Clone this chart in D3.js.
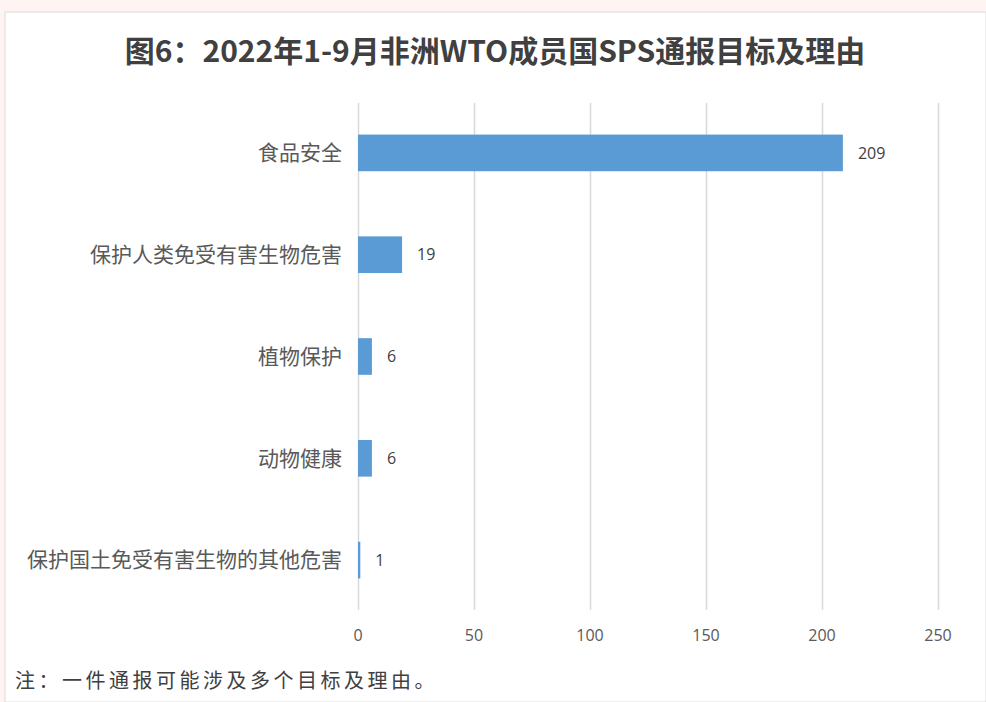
<!DOCTYPE html>
<html>
<head>
<meta charset="utf-8">
<script src="https://cdn.jsdelivr.net/npm/d3@7"></script>
<style>
  body { margin: 0; background: #fdf4f3; }
  svg { display: block; }
  .grid line { stroke: #d9d9d9; stroke-width: 1.5; }
  .grid path { display: none; }
</style>
</head>
<body>
<script>
const categories = ['食品安全', '保护人类免受有害生物危害', '植物保护', '动物健康', '保护国土免受有害生物的其他危害'];
const values = [209, 19, 6, 6, 1];
const xTicks = [0, 50, 100, 150, 200, 250];
const titleText = '图6：2022年1-9月非洲WTO成员国SPS通报目标及理由';
const noteText = '注：一件通报可能涉及多个目标及理由。';

const W = 986, H = 702;
let svg = d3.select('body').append('svg')
    .attr('width', W)
    .attr('height', H);

// white panel
svg.append('rect')
    .attr('x', 5).attr('y', 12)
    .attr('width', W - 5).attr('height', H - 12)
    .attr('fill', '#fff')
    .attr('stroke', '#dcdcdc');

let x = d3.scaleLinear().domain([0, 250]).range([358, 938]);
let y = d3.scaleBand().domain(categories).range([102, 611]).paddingInner(0.64).paddingOuter(0.32);

let plot = svg.append('g');

plot.append('g')
    .attr('class', 'grid')
    .attr('transform', 'translate(0,610)')
    .call(d3.axisBottom(x).tickValues(xTicks).tickSize(-507).tickFormat(''));

plot.selectAll('rect.bar').data(values)
    .join('rect')
    .attr('class', 'bar')
    .attr('x', x(0))
    .attr('y', (d, i) => y(categories[i]))
    .attr('width', d => x(d) - x(0))
    .attr('height', y.bandwidth())
    .attr('fill', '#5b9bd5');

plot.selectAll('text.val').data(values)
    .join('text')
    .attr('class', 'val')
    .attr('x', d => x(d) + 15)
    .attr('y', (d, i) => y(categories[i]) + y.bandwidth() / 2)
    .attr('dy', '0.35em')
    .style('font', '16px "Open Sans", sans-serif')
    .style('fill', '#404040')
    .text(d => d);

plot.selectAll('text.cat').data(categories)
    .join('text')
    .attr('class', 'cat')
    .attr('x', 342)
    .attr('y', d => y(d) + y.bandwidth() / 2)
    .attr('dy', '0.35em')
    .attr('text-anchor', 'end')
    .style('font', '21px "Noto Sans CJK SC", sans-serif')
    .style('fill', '#595959')
    .text(d => d);

plot.selectAll('text.tick').data(xTicks)
    .join('text')
    .attr('class', 'tick')
    .attr('x', d => x(d))
    .attr('y', 635)
    .attr('dy', '0.35em')
    .attr('text-anchor', 'middle')
    .style('font', '16px "Open Sans", sans-serif')
    .style('fill', '#595959')
    .text(d => d);

svg.append('text')
    .attr('x', 495).attr('y', 62)
    .attr('text-anchor', 'middle')
    .style('font', 'bold 30px "Noto Sans CJK SC", sans-serif')
    .style('fill', '#404040')
    .text(titleText);

svg.append('text')
    .attr('x', 15).attr('y', 688)
    .style('font', '20px "Noto Sans CJK SC", sans-serif')
    .style('letter-spacing', '3.5px')
    .style('fill', '#404040')
    .text(noteText);
</script>
</body>
</html>
